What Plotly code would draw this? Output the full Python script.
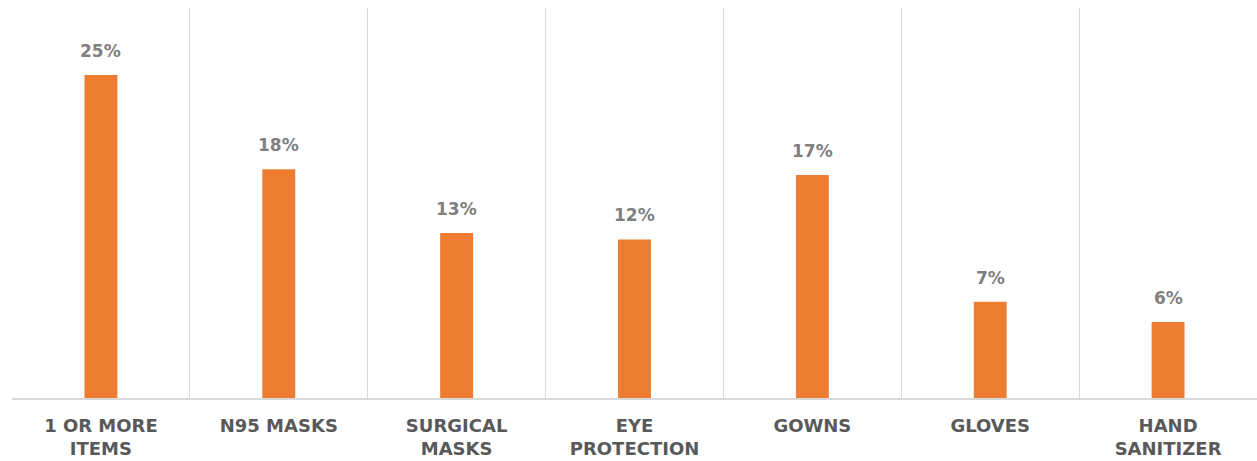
import plotly.graph_objects as go

categories = ["1 OR MORE<br>ITEMS", "N95 MASKS", "SURGICAL<br>MASKS", "EYE<br>PROTECTION",
              "GOWNS", "GLOVES", "HAND<br>SANITIZER"]
values = [24.85, 17.6, 12.7, 12.2, 17.15, 7.4, 5.85]
labels = ["25%", "18%", "13%", "12%", "17%", "7%", "6%"]

fig = go.Figure()
fig.add_trace(go.Bar(x=categories, y=values, marker=dict(color="#ED7D31", line=dict(width=0)),
                     hoverinfo="skip"))

for c, v, t in zip(categories, values, labels):
    fig.add_annotation(x=c, y=v, text=t, showarrow=False, yanchor="bottom", yshift=12,
                       font=dict(family="DejaVu Sans", size=17, color="#7f7f7f", weight="bold"))

fig.update_layout(
    width=1257, height=461,
    margin=dict(l=12, r=0, t=8, b=63),
    paper_bgcolor="white", plot_bgcolor="white",
    bargap=0.815, showlegend=False,
    xaxis=dict(type="category", tickson="boundaries", showgrid=True, gridcolor="#d9d9d9", gridwidth=1,
               showline=True, linecolor="#d9d9d9", linewidth=2, ticks="", ticklabelstandoff=10,
               tickfont=dict(family="DejaVu Sans", size=18, color="#595959", weight="bold")),
    yaxis=dict(range=[0, 30], visible=False, showgrid=False, zeroline=False),
)

fig.write_html("out.html")
